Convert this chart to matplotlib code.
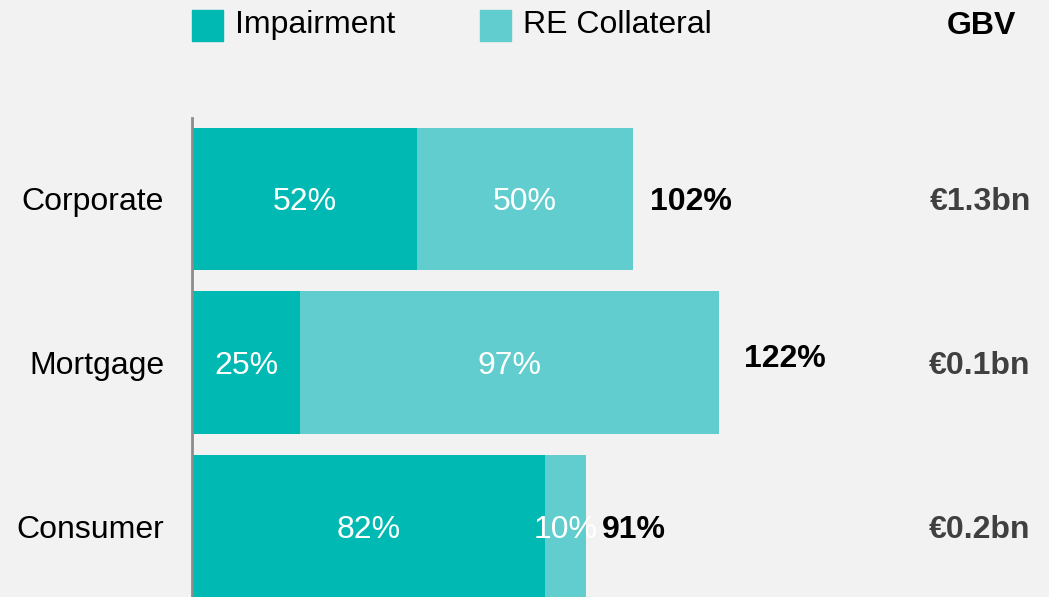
import matplotlib.pyplot as plt
from matplotlib.patches import Rectangle

plt.rcParams['font.family'] = ['Liberation Sans', 'DejaVu Sans']

categories = ['Corporate', 'Mortgage', 'Consumer']
impairment = [52, 25, 81.6]
collateral = [50, 97, 9.6]
gbv = ['€1.3bn', '€0.1bn', '€0.2bn']

c_imp = '#00b9b2'
c_col = '#62cdce'
bg = '#f2f2f2'

W, H = 1049, 597
fig = plt.figure(figsize=(W / 100, H / 100), dpi=100, facecolor=bg)

# axes from the axis line (x=192) to right edge, y from 118 to bottom
ax = fig.add_axes([192 / W, 0, 1 - 192 / W, (H - 118) / H])
ax.set_facecolor(bg)
px = 4.32   # pixels per percent
py = 163.5  # pixels per row
ax.set_xlim(0, (W - 192) / px)
ax.set_ylim(2.434, -0.495)

fs = 23
base = 11.5 / py  # baseline offset below row centre
y = range(len(categories))
ax.barh(y, impairment, height=0.87, color=c_imp)
ax.barh(y, collateral, left=impairment, height=0.87, color=c_col)

gap = [17, 25, 16]
shift = [0, -7, 0]
for i in y:
    ax.text(impairment[i] / 2, i + base, '%.0f%%' % impairment[i], color='white',
            fontsize=fs, ha='center', va='baseline')
    ax.text(impairment[i] + collateral[i] / 2, i + base, '%.0f%%' % collateral[i],
            color='white', fontsize=fs, ha='center', va='baseline')
    tot = impairment[i] + collateral[i]
    ax.text(tot + gap[i] / px, i + base + shift[i] / py, '%.0f%%' % tot,
            fontsize=fs, fontweight='bold', ha='left', va='baseline')
    ax.text((980 - 192) / px, i + base, gbv[i], fontsize=fs, fontweight='bold',
            color='#404040', ha='center', va='baseline')
    ax.text(-28 / px, i + base, categories[i], fontsize=fs, ha='right',
            va='baseline', clip_on=False)

for s in ['top', 'right', 'bottom']:
    ax.spines[s].set_visible(False)
ax.spines['left'].set_color('#8c8c8c')
ax.spines['left'].set_linewidth(2)
ax.set_xticks([])
ax.set_yticks([])

# legend
for x0, label, c in [(192, 'Impairment', c_imp), (480, 'RE Collateral', c_col)]:
    fig.patches.append(Rectangle((x0 / W, 1 - 41 / H), 31 / W, 31 / H,
                                 transform=fig.transFigure, color=c))
    fig.text((x0 + 43) / W, 1 - 33 / H, label, fontsize=fs, va='baseline')
fig.text(981 / W, 1 - 34 / H, 'GBV', fontsize=fs, fontweight='bold',
         ha='center', va='baseline')

fig.savefig('out.png', dpi=100, facecolor=bg)
